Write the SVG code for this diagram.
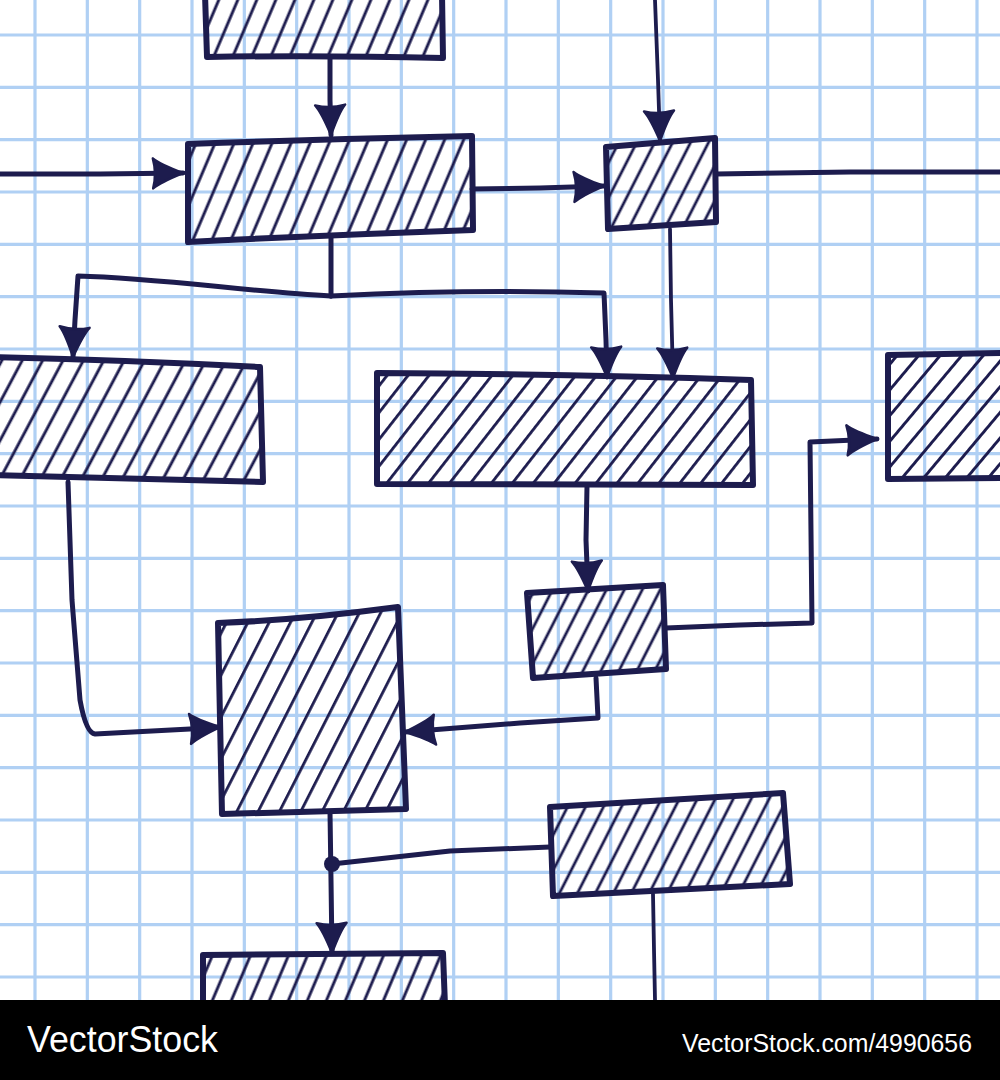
<svg xmlns="http://www.w3.org/2000/svg" width="1000" height="1080" viewBox="0 0 1000 1080">
<style>
.grid{fill:none;stroke:#b0d0f4;stroke-width:3.2}
.box{stroke:#1d1c4e;stroke-width:6;stroke-linejoin:round;stroke-linecap:round}
.con{fill:none;stroke:#1d1c4e;stroke-width:5;stroke-linejoin:round;stroke-linecap:round}
.thin{stroke-width:3.8}
.hl{fill:#1d1c4e}
.brand{fill:#ffffff;font-family:"Liberation Sans",Arial,sans-serif}
</style>
<defs>
<pattern id="hA" patternUnits="userSpaceOnUse" width="17.5" height="40" patternTransform="rotate(23)"><rect x="7.4" y="0" width="2.9" height="40" class="hl"/></pattern>
<pattern id="hC" patternUnits="userSpaceOnUse" width="16" height="40" patternTransform="rotate(27)"><rect x="6.6" y="0" width="2.8" height="40" class="hl"/></pattern>
<pattern id="hD" patternUnits="userSpaceOnUse" width="18" height="40" patternTransform="rotate(28)"><rect x="7.4" y="0" width="2.9" height="40" class="hl"/></pattern>
<pattern id="hE" patternUnits="userSpaceOnUse" width="16.5" height="40" patternTransform="rotate(38)"><rect x="6.8" y="0" width="2.8" height="40" class="hl"/></pattern>
<pattern id="hF" patternUnits="userSpaceOnUse" width="16.5" height="40" patternTransform="rotate(40)"><rect x="6.8" y="0" width="2.9" height="40" class="hl"/></pattern>
<pattern id="hH" patternUnits="userSpaceOnUse" width="19" height="40" patternTransform="rotate(27)"><rect x="8" y="0" width="2.8" height="40" class="hl"/></pattern>
<marker id="arr" markerUnits="userSpaceOnUse" markerWidth="38" markerHeight="38" viewBox="0 0 38 38" refX="34" refY="19" orient="auto">
<path d="M4,4 Q11,10 34,19 Q11,28 4,34 Q8,19 4,4 Z" fill="#1d1c4e" stroke="#1d1c4e" stroke-width="2.5" stroke-linejoin="round"/>
</marker>
</defs>
<rect x="0" y="0" width="1000" height="1080" fill="#ffffff"/>
<path class="grid" d="M35,0V1000M87.33,0V1000M139.67,0V1000M192,0V1000M244.33,0V1000M296.67,0V1000M349,0V1000M401.33,0V1000M453.67,0V1000M506,0V1000M558.33,0V1000M610.67,0V1000M663,0V1000M715.33,0V1000M767.67,0V1000M820,0V1000M872.33,0V1000M924.67,0V1000M977,0V1000M0,35H1000M0,87.33H1000M0,139.67H1000M0,192H1000M0,244.33H1000M0,296.67H1000M0,349H1000M0,401.33H1000M0,453.67H1000M0,506H1000M0,558.33H1000M0,610.67H1000M0,663H1000M0,715.33H1000M0,767.67H1000M0,820H1000M0,872.33H1000M0,924.67H1000M0,977H1000"/>
<g id="connectors">
<path class="con" d="M330,58 L330,100 L331,135" marker-end="url(#arr)"/>
<path class="con" d="M0,174 L100,174 L183,173" marker-end="url(#arr)"/>
<path class="con" d="M472,189 L540,188 L604,186" marker-end="url(#arr)"/>
<path class="con thin" d="M655,0 L658,80 L660,141" marker-end="url(#arr)"/>
<path class="con" d="M716,174 L850,172 L1000,172"/>
<path class="con thin" d="M670,229 L671,300 L673,378" marker-end="url(#arr)"/>
<path class="con" d="M331,236 L331,296"/>
<path class="con" d="M331,296 C250,292 160,278 78,276 L75,320 L73,357" marker-end="url(#arr)"/>
<path class="con" d="M331,296 Q470,289 604,293 L606,340 L607,377" marker-end="url(#arr)"/>
<path class="con" d="M68,482 L72,600 L80,700 Q86,733 95,734 L190,729 L220,727" marker-end="url(#arr)"/>
<path class="con" d="M587,486 L586,540 L588,591" marker-end="url(#arr)"/>
<path class="con" d="M666,628 L740,625 L812,623 L810,442 L877,439" marker-end="url(#arr)"/>
<path class="con" d="M596,678 L598,718 L520,723 L405,732" marker-end="url(#arr)"/>
<path class="con" d="M330,812 L331,880 L332,953" marker-end="url(#arr)"/>
<path class="con" d="M550,847 L450,851 L332,864"/>
<path class="con thin" d="M653,894 L654,950 L655,1000"/>
<circle cx="332" cy="864" r="8" fill="#1d1c4e"/>
</g>
<g id="box-a"><path class="box" fill="url(#hA)" d="M205,-6 L207,57 Q320,55 443,58 L442,-6 Z"/></g>
<g id="box-b"><path class="box" fill="url(#hA)" d="M188,144 Q330,139 472,136 L473,230 Q330,235 188,242 Z"/></g>
<g id="box-c"><path class="box" fill="url(#hC)" d="M606,147 L715,138 L716,222 L608,229 Z"/></g>
<g id="box-d"><path class="box" fill="url(#hD)" d="M-6,357 Q130,360 260,367 L263,482 Q130,478 -6,475 Z"/></g>
<g id="box-e"><path class="box" fill="url(#hE)" d="M377,373 Q560,374 751,380 L753,485 Q560,485 377,484 Z"/></g>
<g id="box-f"><path class="box" fill="url(#hF)" d="M888,355 L1006,353 L1006,478 L888,479 Z"/></g>
<g id="box-g"><path class="box" fill="url(#hC)" d="M527,593 L663,585 L666,669 L533,678 Z"/></g>
<g id="box-h"><path class="box" fill="url(#hH)" d="M218,623 Q300,620 398,607 L406,809 Q310,812 222,814 Z"/></g>
<g id="box-i"><path class="box" fill="url(#hC)" d="M550,807 L783,793 L790,884 L553,896 Z"/></g>
<g id="box-j"><path class="box" fill="url(#hA)" d="M203,955 L443,953 L445,1006 L203,1006 Z"/></g>
<rect x="0" y="1000" width="1000" height="80" fill="#000000"/>
<text class="brand" x="27" y="1052" font-size="36" textLength="191" lengthAdjust="spacingAndGlyphs">VectorStock</text>
<text class="brand" x="682" y="1052" font-size="26" textLength="290" lengthAdjust="spacingAndGlyphs">VectorStock.com/4990656</text>
</svg>
